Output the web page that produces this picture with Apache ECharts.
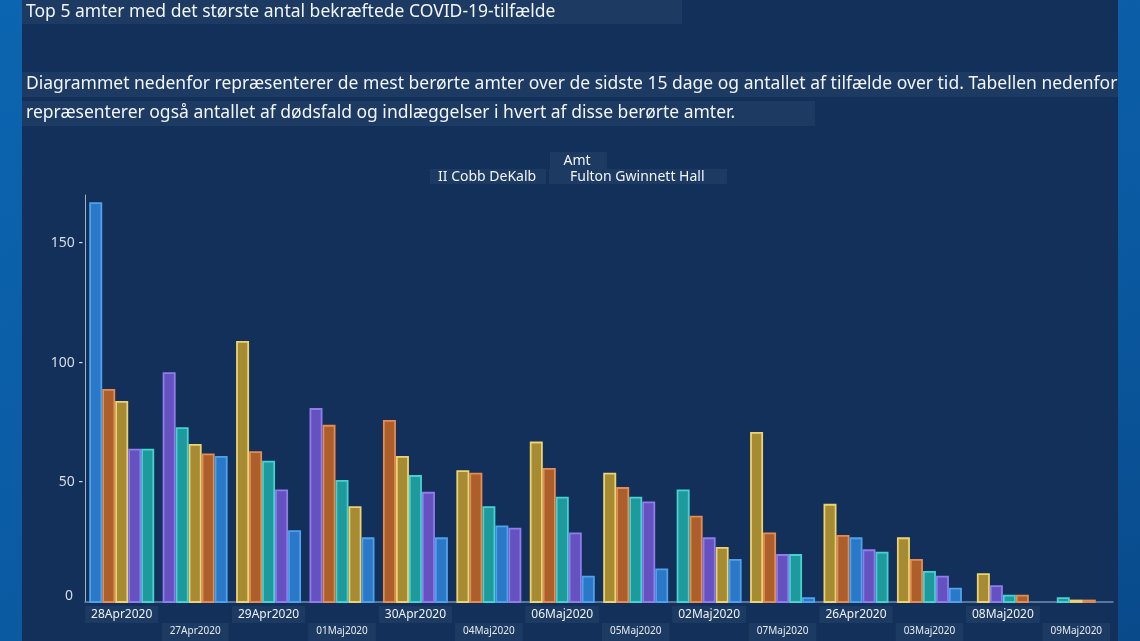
<!DOCTYPE html>
<html><head><meta charset="utf-8">
<script src="https://cdn.jsdelivr.net/npm/echarts@6/dist/echarts.min.js"></script>
<style>
html,body{margin:0;padding:0;width:1140px;height:641px;overflow:hidden;background:linear-gradient(160deg,#0c65b0 0%,#0a5aa2 60%,#094a8a 100%);}
#panel{position:absolute;left:22px;top:0;width:1096px;height:641px;background:#12305a;}
#chart{position:absolute;left:0;top:0;width:1140px;height:641px;}
</style></head><body><div id="panel"></div><div id="chart"></div>
<script>
const titleText = 'Top 5 amter med det største antal bekræftede COVID-19-tilfælde';
const descLine1 = 'Diagrammet nedenfor repræsenterer de mest berørte amter over de sidste 15 dage og antallet af tilfælde over tid. Tabellen nedenfor';
const descLine2 = 'repræsenterer også antallet af dødsfald og indlæggelser i hvert af disse berørte amter.';
const legendTitle = 'Amt';
const legendLeftText = 'II Cobb DeKalb';
const legendRightText = 'Fulton Gwinnett Hall';

const counties = ['Cobb', 'DeKalb', 'Fulton', 'Gwinnett', 'Hall'];
const dates = ['28Apr2020','27Apr2020','29Apr2020','01Maj2020','30Apr2020','04Maj2020','06Maj2020','05Maj2020','02Maj2020','07Maj2020','26Apr2020','03Maj2020','08Maj2020','09Maj2020'];
const cobb     = [64, 73, 59, 51, 53, 40, 44, 44, 47, 20, 21, 13, 3, 2];
const dekalb   = [89, 62, 63, 74, 76, 54, 56, 48, 36, 29, 28, 18, 3, 1];
const fulton   = [84, 66, 109, 40, 61, 55, 67, 54, 23, 71, 41, 27, 12, 1];
const gwinnett = [64, 96, 47, 81, 46, 31, 29, 42, 27, 20, 22, 11, 7, 0];
const hall     = [167, 61, 30, 27, 27, 32, 11, 14, 18, 2, 27, 6, 0, 0];
const yTickValues = [0, 50, 100, 150];

const countyValues = [cobb, dekalb, fulton, gwinnett, hall];
// tie order when values are equal (Gwinnett, Cobb, Fulton, DeKalb, Hall)
const tieOrder = [1, 3, 2, 0, 4];
const fills   = ['#1f9a9c', '#ad5f2b', '#a68b32', '#6551bf', '#2b78c8'];
const strokes = ['#46d2d2', '#e58c52', '#ecd474', '#8f7deb', '#4ea2ea'];

// rank each county within a date group
const ranks = countyValues.map(() => []);
const counts = [];
dates.forEach((d, i) => {
  const present = [];
  countyValues.forEach((arr, c) => { if (arr[i] > 0) present.push(c); });
  present.sort((a, b) => (countyValues[b][i] - countyValues[a][i]) || (tieOrder[a] - tieOrder[b]));
  counts[i] = present.length;
  present.forEach((c, r) => { ranks[c][i] = r; });
});

function makeRender(fill, stroke) {
  return function (params, api) {
    const xi = api.value(0), v = api.value(1), r = api.value(2), n = api.value(3);
    if (!(v > 0)) return null;
    const base = api.coord([xi, 0]);
    const top = api.coord([xi, v]);
    const band = api.size([1, 0])[0];
    const bw = band * 0.885 / 5;
    const left = base[0] - n * bw / 2 + r * bw;
    return {
      type: 'rect',
      shape: { x: left + 0.9, y: top[1] + 0.9, width: bw - 1.8, height: base[1] - top[1] - 0.9 },
      style: { fill: fill, stroke: stroke, lineWidth: 1.8 }
    };
  };
}

const series = counties.map((name, c) => ({
  name: name,
  type: 'custom',
  xAxisIndex: 0,
  yAxisIndex: 0,
  encode: { x: 0, y: 1 },
  renderItem: makeRender(fills[c], strokes[c]),
  data: dates.map((d, i) => [i, countyValues[c][i], ranks[c][i] == null ? 0 : ranks[c][i], counts[i]])
}));

const FONT = '"Noto Sans", "Open Sans", sans-serif';
const boxColor = '#1c3a62';

function textBox(x, y, w, h, tx, ty, text, size, align) {
  return {
    type: 'group',
    children: [
      { type: 'rect', shape: { x: x, y: y, width: w, height: h }, style: { fill: boxColor } },
      { type: 'text', x: tx, y: ty, style: { text: text, fill: '#f2f5f9', font: size + 'px ' + FONT, textVerticalAlign: 'middle', textAlign: align || 'left' } }
    ]
  };
}

const chart = echarts.init(document.getElementById('chart'));
chart.setOption({
  backgroundColor: 'transparent',
  animation: false,
  textStyle: { fontFamily: FONT },
  grid: { left: 85, right: 27, top: 195, bottom: 36 },
  xAxis: [{
    type: 'category',
    data: dates,
    position: 'bottom',
    axisLine: { lineStyle: { color: '#6f8db3', width: 1.5 } },
    axisTick: { show: false },
    axisLabel: {
      interval: (i) => i % 2 === 0,
      margin: 4,
      fontSize: 12,
      lineHeight: 13,
      color: '#eef2f7',
      backgroundColor: boxColor,
      padding: [2, 6, 2, 6]
    }
  }, {
    type: 'category',
    data: dates,
    position: 'bottom',
    offset: 18,
    axisLine: { show: false },
    axisTick: { show: false },
    axisLabel: {
      interval: (i) => i % 2 === 1,
      margin: 3,
      fontSize: 10,
      lineHeight: 11,
      color: '#e6ebf2',
      backgroundColor: boxColor,
      padding: [3, 8, 4, 8]
    }
  }],
  yAxis: {
    type: 'value',
    min: 0,
    max: 170,
    interval: 50,
    splitLine: { show: false },
    axisLine: { show: true, lineStyle: { color: '#9fb1c6', width: 1 } },
    axisTick: { show: false },
    axisLabel: {
      customValues: yTickValues,
      fontSize: 14,
      color: '#d6dde6',
      margin: 2,
      formatter: (v) => v === 0 ? '{z|0}' : v + ' -',
      rich: { z: { fontSize: 14, color: '#d6dde6', padding: [0, 10, 12, 0] } }
    }
  },
  series: series,
  graphic: [
    textBox(22, 0, 660, 24, 26, 12, titleText, 17.5),
    textBox(22, 72, 1096, 25, 26, 84, descLine1, 17.5),
    textBox(22, 101, 793, 25, 26, 113, descLine2, 17.5),
    textBox(550, 152, 57, 17, 577, 161, legendTitle, 14, 'center'),
    textBox(430, 169, 116, 15, 438, 177, legendLeftText, 14),
    textBox(549, 169, 178, 15, 570, 177, legendRightText, 14)
  ]
});
</script></body></html>
